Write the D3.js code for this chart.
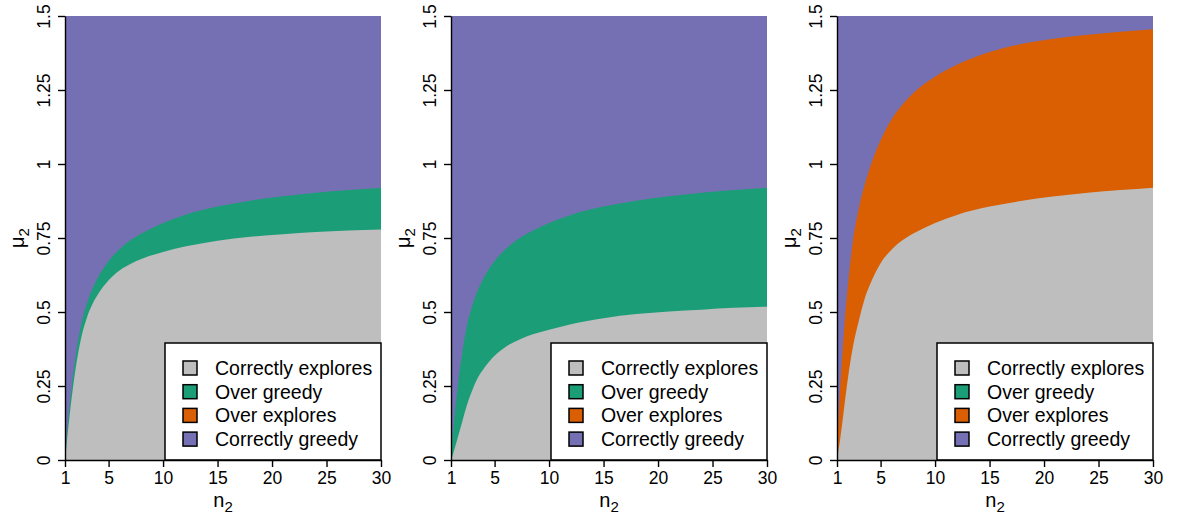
<!DOCTYPE html>
<html>
<head>
<meta charset="utf-8">
<script src="https://cdn.jsdelivr.net/npm/d3@7"></script>
<style>
  html, body { margin: 0; padding: 0; background: #ffffff; }
  svg { display: block; font-family: "Liberation Sans", Arial, sans-serif; }
</style>
</head>
<body>
<svg id="chart" width="1178" height="518"></svg>
<script>
// n2 values at which each region boundary is sampled
const n2Grid = [1, 1.1, 1.25, 1.5, 1.75, 2, 2.5, 3, 3.5, 4, 5, 6, 7, 8, 10, 12, 15, 18, 21, 24, 27, 30];

// Panel 1: upper edge of "Correctly explores" and of "Over greedy"
const p1ExploreTop = [0, 0.035, 0.09, 0.175, 0.25, 0.315, 0.415, 0.48, 0.525, 0.558, 0.607, 0.64, 0.662, 0.679, 0.703, 0.721, 0.741, 0.754, 0.763, 0.77, 0.775, 0.779];
const p1GreedyTop  = [0, 0.05, 0.12, 0.21, 0.29, 0.355, 0.46, 0.527, 0.577, 0.615, 0.672, 0.712, 0.742, 0.765, 0.801, 0.828, 0.856, 0.876, 0.891, 0.903, 0.912, 0.92];

// Panel 2: upper edge of "Correctly explores" and of "Over greedy"
const p2ExploreTop = [0, 0.01, 0.028, 0.06, 0.093, 0.125, 0.19, 0.24, 0.28, 0.308, 0.352, 0.382, 0.402, 0.418, 0.44, 0.459, 0.479, 0.493, 0.502, 0.508, 0.514, 0.518];
const p2GreedyTop  = [0, 0.05, 0.12, 0.21, 0.29, 0.355, 0.46, 0.527, 0.577, 0.615, 0.672, 0.712, 0.742, 0.765, 0.801, 0.828, 0.856, 0.876, 0.891, 0.903, 0.912, 0.92];

// Panel 3: upper edge of "Correctly explores" and of "Over explores"
const p3ExploreTop = [0, 0.025, 0.06, 0.13, 0.205, 0.275, 0.39, 0.47, 0.54, 0.59, 0.665, 0.71, 0.742, 0.765, 0.801, 0.828, 0.856, 0.876, 0.891, 0.903, 0.912, 0.92];
const p3OverTop    = [0.03, 0.10, 0.215, 0.36, 0.49, 0.59, 0.75, 0.85, 0.925, 0.985, 1.08, 1.15, 1.20, 1.24, 1.295, 1.335, 1.378, 1.406, 1.424, 1.437, 1.447, 1.455];

const legendLabels = ["Correctly explores", "Over greedy", "Over explores", "Correctly greedy"];
const legendColors = ["#bebebe", "#1b9e77", "#d95f02", "#7570b3"];

const xTicks = [1, 5, 10, 15, 20, 25, 30];
const yTicks = [0, 0.25, 0.5, 0.75, 1, 1.25, 1.5];
const yTickLabels = ["0", "0.25", "0.5", "0.75", "1", "1.25", "1.5"];

const panels = [
  { left: 65,  lower: p1ExploreTop, upper: p1GreedyTop, middleColor: legendColors[1] },
  { left: 451, lower: p2ExploreTop, upper: p2GreedyTop, middleColor: legendColors[1] },
  { left: 837, lower: p3ExploreTop, upper: p3OverTop,   middleColor: legendColors[2] }
];

const plotW = 316, plotTop = 16, plotBottom = 460;
const svg = d3.select("#chart");

panels.forEach(p => {
  const x = d3.scaleLinear().domain([1, 30]).range([p.left, p.left + plotW]);
  const y = d3.scaleLinear().domain([0, 1.5]).range([plotBottom, plotTop]);
  const g = svg.append("g");

  // background region: correctly greedy
  g.append("rect")
    .attr("x", x(1)).attr("y", y(1.5))
    .attr("width", x(30) - x(1)).attr("height", y(0) - y(1.5))
    .attr("fill", legendColors[3]);

  const rows = n2Grid.map((n, i) => ({ n, lo: p.lower[i], hi: p.upper[i] }));

  const area = key => d3.area()
    .x(d => x(d.n))
    .y0(y(0))
    .y1(d => y(d[key]))
    .curve(d3.curveMonotoneX);

  g.append("path").datum(rows).attr("d", area("hi")).attr("fill", p.middleColor);
  g.append("path").datum(rows).attr("d", area("lo")).attr("fill", legendColors[0]);

  // legend box in the lower-right corner
  const lw = 216, lh = 117;
  const lx = x(30) - lw, ly = y(0) - lh;
  const lg = g.append("g");
  lg.append("rect")
    .attr("x", lx).attr("y", ly).attr("width", lw).attr("height", lh)
    .attr("fill", "#ffffff").attr("stroke", "#000").attr("stroke-width", 1.5);
  legendLabels.forEach((lab, i) => {
    const cy = ly + 25 + i * 23.7;
    lg.append("rect")
      .attr("x", lx + 18).attr("y", cy - 7).attr("width", 14).attr("height", 14)
      .attr("fill", legendColors[i]).attr("stroke", "#000").attr("stroke-width", 1.5);
    lg.append("text")
      .attr("x", lx + 50).attr("y", cy + 7)
      .attr("font-size", 19.5).attr("fill", "#000")
      .text(lab);
  });

  // x axis
  const xa = g.append("g")
    .attr("transform", `translate(0,${plotBottom})`)
    .call(d3.axisBottom(x).tickValues(xTicks).tickSize(7).tickSizeOuter(0).tickPadding(5));
  xa.selectAll("text").attr("font-size", 17.5).attr("font-family", "Liberation Sans, Arial, sans-serif").attr("fill", "#000");

  // y axis with rotated labels
  const ya = g.append("g")
    .attr("transform", `translate(${p.left},0)`)
    .call(d3.axisLeft(y).tickValues(yTicks).tickSize(7).tickSizeOuter(0)
      .tickFormat((d, i) => yTickLabels[i]));
  ya.selectAll("text")
    .attr("x", null).attr("dy", null)
    .attr("text-anchor", "middle")
    .attr("transform", "translate(-15,0) rotate(-90)")
    .attr("font-size", 17.5).attr("font-family", "Liberation Sans, Arial, sans-serif").attr("fill", "#000");

  [xa, ya].forEach(a => {
    a.select(".domain").attr("stroke", "#000").attr("stroke-width", 1.4);
    a.selectAll(".tick line").attr("stroke", "#000").attr("stroke-width", 1.4);
  });

  // axis titles
  const xt = g.append("text")
    .attr("x", p.left + plotW / 2).attr("y", 507)
    .attr("text-anchor", "middle").attr("font-size", 20);
  xt.append("tspan").text("n");
  xt.append("tspan").attr("dy", 5).attr("font-size", 15).text("2");

  const yt = g.append("text")
    .attr("transform", `translate(${p.left - 41},238) rotate(-90)`)
    .attr("text-anchor", "middle").attr("font-size", 20);
  yt.append("tspan").text("μ");
  yt.append("tspan").attr("dy", 5).attr("font-size", 15).text("2");
});
</script>
</body>
</html>
